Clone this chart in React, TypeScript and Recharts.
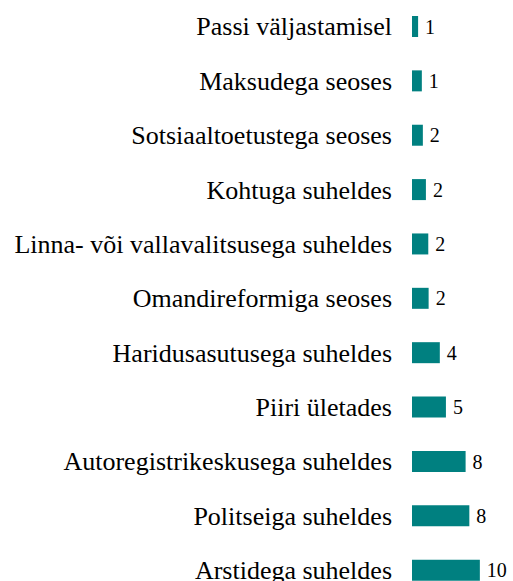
import { BarChart, Bar, XAxis, YAxis, LabelList } from "recharts";

const categories = [
  "Passi väljastamisel",
  "Maksudega seoses",
  "Sotsiaaltoetustega seoses",
  "Kohtuga suheldes",
  "Linna- või vallavalitsusega suheldes",
  "Omandireformiga seoses",
  "Haridusasutusega suheldes",
  "Piiri ületades",
  "Autoregistrikeskusega suheldes",
  "Politseiga suheldes",
  "Arstidega suheldes",
];

const values = [0.9, 1.45, 1.6, 2.05, 2.4, 2.45, 4.1, 5.0, 7.9, 8.45, 10.0];

const data = categories.map((name, i) => ({ name, value: values[i] }));

// serif faces don't seem to be installed, fall back to a metric-matched sans
const font = "Liberation Serif, Times New Roman, Liberation Sans, sans-serif";

export default function App() {
  return (
    <div style={{ width: 513, height: 581, overflow: "hidden", background: "#fff" }}>
      <style>{`body{margin:0}`}</style>
      <div style={{ marginTop: -1 }}>
        <BarChart
          width={513}
          height={598}
          data={data}
          layout="vertical"
          margin={{ top: 0, right: 6, bottom: 0, left: 0 }}
        >
          <XAxis type="number" domain={[0, 14]} hide />
          <YAxis
            type="category"
            dataKey="name"
            width={412}
            axisLine={false}
            tickLine={false}
            tickMargin={14}
            interval={0}
            tick={{ fill: "#000", fontSize: 26, fontFamily: font }}
          />
          <Bar dataKey="value" fill="#008080" barSize={21} isAnimationActive={false}>
            <LabelList
              dataKey="value"
              position="right"
              offset={7}
              formatter={(v: number) => Math.round(v)}
              style={{ fill: "#000", fontSize: 20, fontFamily: font }}
            />
          </Bar>
        </BarChart>
      </div>
    </div>
  );
}
